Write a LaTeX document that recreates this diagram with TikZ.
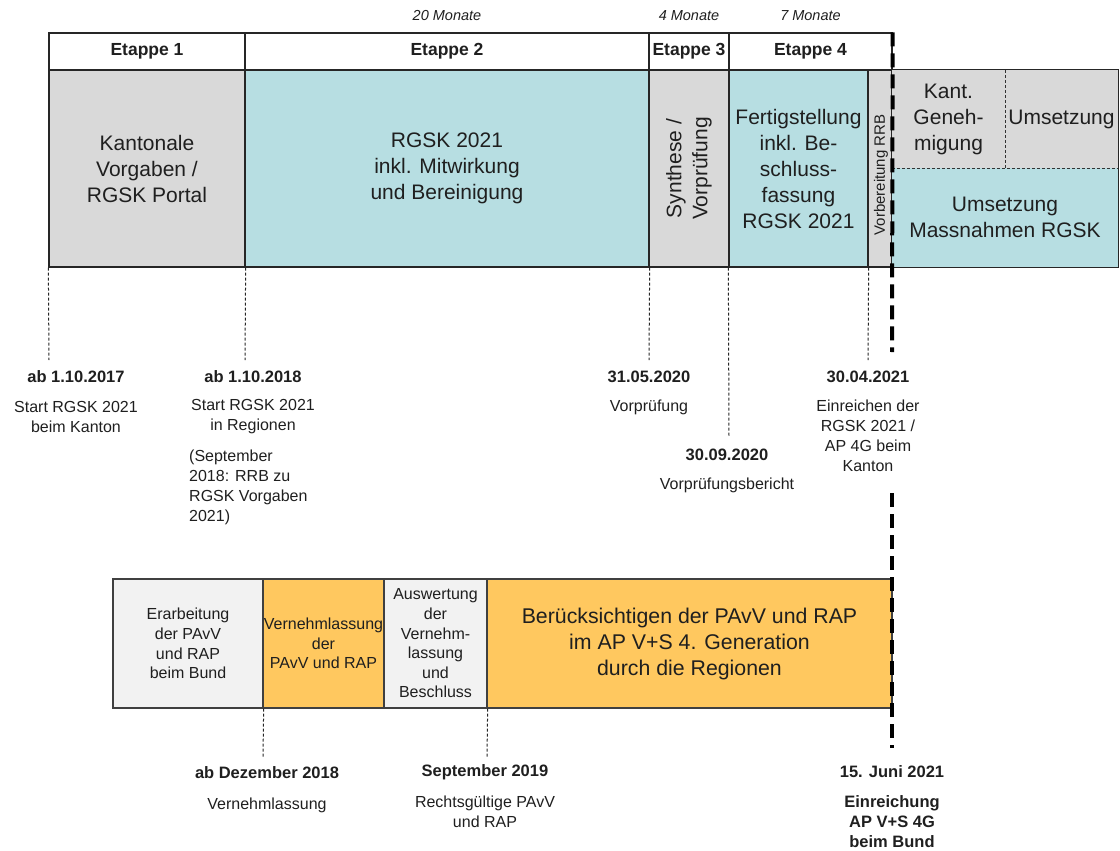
\documentclass[tikz,border=0pt]{standalone}
\usepackage{fontspec}
\setmainfont{Liberation Sans}
\definecolor{cgray}{HTML}{D9D9D9}
\definecolor{cteal}{HTML}{B7DEE2}
\definecolor{corange}{HTML}{FFC85F}
\definecolor{clight}{HTML}{F2F2F2}
\definecolor{ctext}{HTML}{1F1F1F}
\begin{document}
\begin{tikzpicture}[x=1pt,y=-1pt,
  every node/.style={inner sep=0pt, text=ctext},
  cell/.style={draw=black!85, line width=1.3pt, align=center, font=\fontsize{21}{26}\selectfont},
  plain/.style={align=center, font=\fontsize{21}{26}\selectfont},
  hdr/.style={draw=black!85, line width=1.3pt, fill=white, font=\bfseries\fontsize{17.5}{20}\selectfont},
  months/.style={font=\itshape\fontsize{14.5}{17}\selectfont},
  datelbl/.style={font=\bfseries\fontsize{16.5}{20}\selectfont, align=center},
  desc/.style={font=\fontsize{16}{20}\selectfont, align=center},
  pbox/.style={draw=black!75, line width=1.3pt, align=center, font=\fontsize{16}{19.6}\selectfont},
  drop/.style={draw=black!85, line width=1pt, dash pattern=on 3pt off 2pt},
  milestone/.style={draw=black, line width=4pt, dash pattern=on 14pt off 7pt},
  divider/.style={draw=black!80, line width=1pt, dash pattern=on 3pt off 2pt}
]
\useasboundingbox (0,0) rectangle (1120,851);

% months
\node[months] (m20) at (447,16) {20 Monate};
\node[months] (m4) at (689,16) {4 Monate};
\node[months] (m7) at (810.5,16) {7 Monate};

% header row
\node[hdr, minimum width=196, minimum height=37] (e1) at (147,51.5) {Etappe 1};
\node[hdr, minimum width=404, minimum height=37] (e2) at (447,51.5) {Etappe 2};
\node[hdr, minimum width=80, minimum height=37] (e3) at (689,51.5) {Etappe 3};
\node[hdr, minimum width=163, minimum height=37] (e4) at (810.5,51.5) {Etappe 4};

% body row
\node[cell, fill=cgray, minimum width=196, minimum height=197] (b1) at (147,168.5) {Kantonale\\Vorgaben /\\RGSK Portal};
\node[cell, fill=cteal, minimum width=404, minimum height=197] (b2) at (447,168.5) {RGSK 2021\\inkl. Mitwirkung\\und Bereinigung};
\node[cell, fill=cgray, minimum width=80, minimum height=197] (b3) at (689,168.5) {};
\node[plain, rotate=90] (t3) at (689,168.5) {Synthese /\\Vorprüfung};
\node[cell, fill=cteal, minimum width=139, minimum height=197] (b4) at (798.5,168.5) {Fertigstellung\\inkl. Be-\\schluss-\\fassung\\RGSK 2021};
\node[cell, fill=cgray, minimum width=24, minimum height=197] (b5) at (880,168.5) {};
\node[font=\fontsize{15}{18}\selectfont, rotate=90] (t5) at (881,175) {Vorbereitung RRB};

% right region
\node[plain, fill=cgray, minimum width=113, minimum height=98] (r1) at (948.5,119) {Kant.\\Geneh-\\migung};
\node[plain, fill=cgray, minimum width=113, minimum height=98] (r2) at (1061.5,119) {Umsetzung};
\node[plain, fill=cteal, minimum width=226, minimum height=99] (r3) at (1005,217.5) {Umsetzung\\Massnahmen RGSK};
\draw[draw=black!85, line width=1.3pt] (r1.north west) -- (r2.north east) -- (r3.south east) -- (r3.south west);
\draw[divider] (r1.south west) -- (r2.south east);
\draw[divider] (r1.north east) -- (r1.south east);

% bottom row
\node[pbox, fill=clight, minimum width=150, minimum height=129] (p1) at (188,643.5) {Erarbeitung\\der PAvV\\und RAP\\beim Bund};
\node[pbox, fill=corange, minimum width=121, minimum height=129] (p2) at (323.5,643.5) {Vernehmlassung\\der\\PAvV und RAP};
\node[pbox, fill=clight, minimum width=103, minimum height=129] (p3) at (435.5,643.5) {Auswertung\\der\\Vernehm-\\lassung\\und\\Beschluss};
\node[pbox, fill=corange, minimum width=405, minimum height=129, font=\fontsize{21.3}{26}\selectfont] (p4) at (689.5,643.5) {Berücksichtigen der PAvV und RAP\\im AP V+S 4. Generation\\durch die Regionen};

% milestone line
\coordinate (ms1) at (892,352);
\coordinate (ms2) at (892,493);
\coordinate (ms3) at (892,748);
\draw[milestone] (e4.north east) -- (ms1);
\draw[milestone] (ms2) -- (ms3);

% date drops (top)
\coordinate (d1) at (49,360);
\coordinate (d2) at (245,360);
\coordinate (d3) at (649,360);
\coordinate (d4) at (729,437);
\coordinate (d5) at (868,360);
\draw[drop] (b1.south west) -- (d1);
\draw[drop] (b1.south east) -- (d2);
\draw[drop] (b2.south east) -- (d3);
\draw[drop] (b4.south west) -- (d4);
\draw[drop] (b4.south east) -- (d5);

% date labels (top)
\node[datelbl] (dt1) at (76,377) {ab 1.10.2017};
\node[desc] (tx1) at (76,417) {Start RGSK 2021\\beim Kanton};
\node[datelbl] (dt2) at (253,377) {ab 1.10.2018};
\node[desc] (tx2) at (253,417) {Start RGSK 2021\\in Regionen};
\node[desc, align=left, anchor=west] (tx2b) at (189,487) {(September\\2018: RRB zu\\RGSK Vorgaben\\2021)};
\node[datelbl] (dt3) at (649,377) {31.05.2020};
\node[desc] (tx3) at (649,407) {Vorprüfung};
\node[datelbl] (dt4) at (727,455) {30.09.2020};
\node[desc] (tx4) at (727,485) {Vorprüfungsbericht};
\node[datelbl] (dt5) at (868,377) {30.04.2021};
\node[desc] (tx5) at (868,436) {Einreichen der\\RGSK 2021 /\\AP 4G beim\\Kanton};

% date drops (bottom)
\coordinate (d6) at (263,758);
\coordinate (d7) at (487,758);
\draw[drop] (p1.south east) -- (d6);
\draw[drop] (p3.south east) -- (d7);

% date labels (bottom)
\node[datelbl] (dt6) at (267,773) {ab Dezember 2018};
\node[desc] (tx6) at (267,805) {Vernehmlassung};
\node[datelbl] (dt7) at (485,772) {September 2019};
\node[desc] (tx7) at (485,812) {Rechtsgültige PAvV\\und RAP};
\node[datelbl] (dt8) at (892,772) {15. Juni 2021};
\node[datelbl] (tx8) at (892,822) {Einreichung\\AP V+S 4G\\beim Bund};
\end{tikzpicture}
\end{document}
